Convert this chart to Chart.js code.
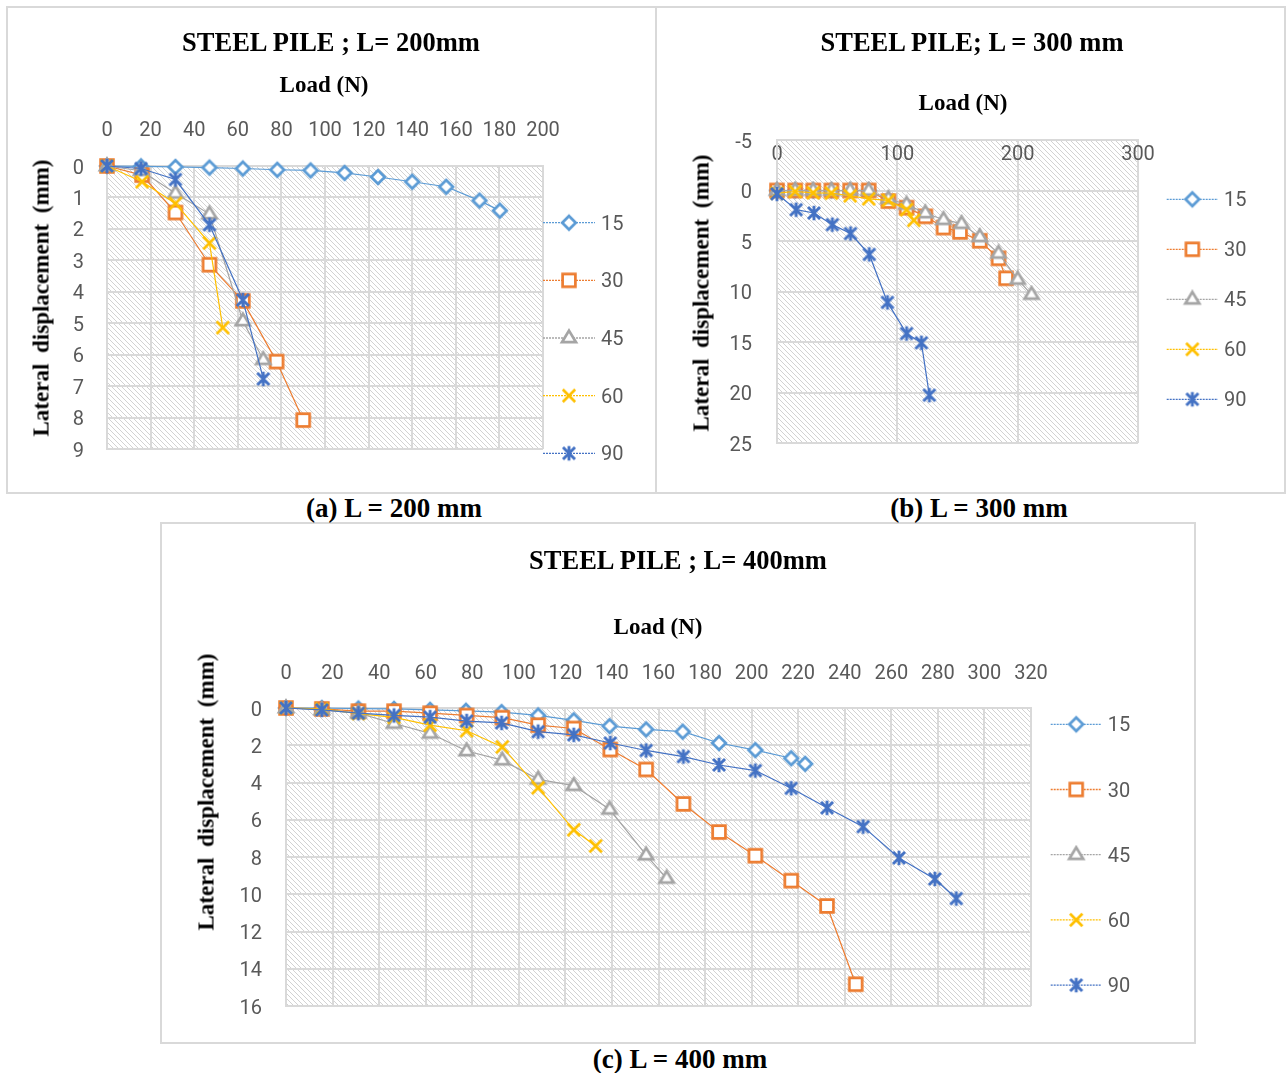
<!DOCTYPE html>
<html>
<head>
<meta charset="utf-8">
<script src="https://cdn.jsdelivr.net/npm/chart.js@4.4.1/dist/chart.umd.min.js"></script>
<style>
html,body{margin:0;padding:0;background:#fff;}
body{width:1286px;height:1073px;position:relative;overflow:hidden;font-family:'Liberation Serif','Times New Roman',serif;}
.panel{position:absolute;border:2px solid #D9D9D9;box-sizing:border-box;}
.txt{position:absolute;font-weight:bold;color:#000;white-space:nowrap;transform:translate(-50%,-50%);line-height:1;}
.title{font-size:26.5px;}
.xt{font-size:23px;}
.cap{font-size:27px;}
.yt{font-size:23px;word-spacing:5px;transform:translate(-50%,-50%) rotate(-90deg);}
canvas{position:absolute;}
</style>
</head>
<body>
<div class="panel" style="left:6px;top:6px;width:651px;height:488px"></div>
<div class="panel" style="left:655px;top:6px;width:631px;height:488px"></div>
<div class="panel" style="left:160px;top:522px;width:1036px;height:522px"></div>

<canvas id="chartA" width="648" height="485" style="left:7px;top:7px;width:648px;height:485px"></canvas>
<canvas id="chartB" width="627" height="485" style="left:657px;top:7px;width:627px;height:485px"></canvas>
<canvas id="chartC" width="1032" height="518" style="left:162px;top:524px;width:1032px;height:518px"></canvas>

<div class="txt title" style="left:331px;top:42px">STEEL PILE ; L= 200mm</div>
<div class="txt xt" style="left:324px;top:84px">Load (N)</div>
<div class="txt yt" style="left:41px;top:298px">Lateral displacement (mm)</div>

<div class="txt title" style="left:972px;top:42px">STEEL PILE; L = 300 mm</div>
<div class="txt xt" style="left:963px;top:102px">Load (N)</div>
<div class="txt yt" style="left:701px;top:293px">Lateral displacement (mm)</div>

<div class="txt title" style="left:678px;top:560px">STEEL PILE ; L= 400mm</div>
<div class="txt xt" style="left:658px;top:626px">Load (N)</div>
<div class="txt yt" style="left:206px;top:792px">Lateral displacement (mm)</div>

<div class="txt cap" style="left:394px;top:508px">(a) L = 200 mm</div>
<div class="txt cap" style="left:979px;top:508px">(b) L = 300 mm</div>
<div class="txt cap" style="left:680px;top:1059px">(c) L = 400 mm</div>

<script>
// ---------------- DATA ----------------
const seriesNames = ['15', '30', '45', '60', '90'];

// (a) L = 200 mm
const xTicksA = [0, 20, 40, 60, 80, 100, 120, 140, 160, 180, 200];
const yTicksA = [0, 1, 2, 3, 4, 5, 6, 7, 8, 9];
const loadA15 = [0, 15.6, 31.4, 47.0, 62.3, 78.1, 93.4, 109.0, 124.3, 140.0, 155.6, 170.9, 180.2];
const dispA15 = [0, 0.01, 0.03, 0.05, 0.08, 0.12, 0.14, 0.22, 0.35, 0.50, 0.66, 1.10, 1.42];
const loadA30 = [0, 16.1, 31.4, 47.0, 62.3, 77.8, 90.0];
const dispA30 = [0, 0.29, 1.48, 3.14, 4.29, 6.22, 8.08];
const loadA45 = [0, 15.6, 31.4, 47.0, 62.3, 71.7];
const dispA45 = [0, 0.15, 0.87, 1.53, 4.93, 6.16];
const loadA60 = [0, 16.1, 31.4, 47.0, 53.1];
const dispA60 = [0, 0.50, 1.19, 2.45, 5.14];
const loadA90 = [0, 15.6, 31.4, 47.0, 62.3, 71.7];
const dispA90 = [0, 0.08, 0.43, 1.87, 4.26, 6.77];

// (b) L = 300 mm
const xTicksB = [0, 100, 200, 300];
const yTicksB = [-5, 0, 5, 10, 15, 20, 25];
const loadB15 = [0, 15.1, 30.1, 45.2, 60.8, 76.2];
const dispB15 = [0, 0, 0, 0, 0, 0];
const loadB30 = [0, 15.1, 30.1, 45.2, 60.8, 76.2, 92.6, 107.7, 123.3, 138.4, 152.1, 168.5, 184.1, 190.4];
const dispB30 = [0, 0, 0, 0, 0, 0, 1.05, 1.70, 2.56, 3.67, 4.10, 4.98, 6.72, 8.69];
const loadB45 = [0, 15.1, 30.1, 45.2, 60.8, 76.2, 92.6, 107.7, 123.3, 138.4, 153.4, 168.5, 184.1, 200.0, 211.5];
const dispB45 = [0, 0, 0, 0, 0, 0, 0.82, 1.38, 2.23, 2.89, 3.28, 4.59, 6.23, 8.80, 10.30];
const loadB60 = [0, 15.1, 30.1, 45.2, 60.8, 76.2, 92.6, 107.7, 113.7];
const dispB60 = [0.26, 0.10, 0.23, 0.26, 0.52, 0.82, 0.98, 1.90, 2.95];
const loadB90 = [0, 15.9, 30.7, 46.0, 61.1, 76.7, 91.8, 107.7, 120.0, 126.6];
const dispB90 = [0.33, 1.90, 2.23, 3.38, 4.26, 6.33, 11.08, 14.16, 15.08, 20.26];

// (c) L = 400 mm
const xTicksC = [0, 20, 40, 60, 80, 100, 120, 140, 160, 180, 200, 220, 240, 260, 280, 300, 320];
const yTicksC = [0, 2, 4, 6, 8, 10, 12, 14, 16];
const loadC15 = [0, 15.4, 31.1, 46.4, 61.9, 77.3, 92.6, 108.3, 123.6, 139.0, 154.7, 170.4, 186.0, 201.6, 217.0, 223.0];
const dispC15 = [0, 0, 0.03, 0.05, 0.10, 0.15, 0.22, 0.40, 0.66, 0.97, 1.15, 1.27, 1.88, 2.26, 2.70, 3.00];
const loadC30 = [0, 15.4, 31.1, 46.4, 61.9, 77.6, 92.9, 108.3, 123.6, 139.3, 154.7, 170.7, 186.0, 201.6, 217.0, 232.4, 244.7];
const dispC30 = [0, 0.05, 0.17, 0.17, 0.28, 0.40, 0.52, 0.92, 1.10, 2.23, 3.30, 5.15, 6.66, 7.93, 9.27, 10.63, 14.83];
const loadC45 = [0, 15.4, 31.1, 46.4, 61.9, 77.6, 92.9, 108.3, 123.6, 139.0, 154.7, 163.5];
const dispC45 = [0, 0.10, 0.28, 0.83, 1.36, 2.31, 2.80, 3.83, 4.17, 5.44, 7.90, 9.15];
const loadC60 = [0, 15.4, 31.1, 46.4, 61.9, 77.6, 92.9, 108.3, 123.6, 133.0];
const dispC60 = [0, 0.05, 0.30, 0.50, 0.92, 1.22, 2.09, 4.28, 6.54, 7.41];
const loadC90 = [0, 15.4, 31.1, 46.4, 61.9, 77.6, 92.6, 108.3, 123.6, 139.3, 154.7, 170.7, 186.0, 201.6, 217.0, 232.4, 247.9, 263.3, 278.7, 287.9];
const dispC90 = [0, 0.10, 0.28, 0.40, 0.49, 0.70, 0.80, 1.27, 1.44, 1.88, 2.28, 2.61, 3.06, 3.36, 4.31, 5.36, 6.37, 8.05, 9.18, 10.23];

// ---------------- STYLE ----------------
const COLORS = ['#5B9BD5', '#ED7D31', '#A5A5A5', '#FFC000', '#4472C4'];
const KINDS = ['diamond', 'square', 'triangle', 'x', 'star'];
const TICK_FONT = "Roboto, 'Liberation Sans', sans-serif";
const TICK_SIZE = 20;
const TICK_COLOR = '#595959';
const GRID_COLOR = '#D9D9D9';

function makeMarker(kind, color) {
  const c = document.createElement('canvas');
  c.width = 20; c.height = 20;
  const g = c.getContext('2d');
  g.strokeStyle = color; g.fillStyle = '#ffffff'; g.lineWidth = 2.7;
  g.lineJoin = 'miter'; g.lineCap = 'butt';
  g.beginPath();
  if (kind === 'diamond') {
    g.moveTo(10, 3.2); g.lineTo(16.8, 10); g.lineTo(10, 16.8); g.lineTo(3.2, 10); g.closePath();
    g.fill(); g.stroke();
  } else if (kind === 'square') {
    g.rect(3.6, 3.6, 12.8, 12.8); g.fill(); g.stroke();
  } else if (kind === 'triangle') {
    g.moveTo(10, 2.6); g.lineTo(17, 14.2); g.lineTo(3, 14.2); g.closePath();
    g.fill(); g.stroke();
  } else if (kind === 'x') {
    g.moveTo(3.8, 3.8); g.lineTo(16.2, 16.2); g.moveTo(3.8, 16.2); g.lineTo(16.2, 3.8);
    g.stroke();
  } else {
    g.lineWidth = 2.9;
    g.moveTo(4, 4); g.lineTo(16, 16); g.moveTo(4, 16); g.lineTo(16, 4);
    g.moveTo(10, 2.8); g.lineTo(10, 17.2);
    g.stroke();
  }
  return c;
}
const MARKERS = KINDS.map((k, i) => makeMarker(k, COLORS[i]));

function pts(xs, ys) { return xs.map((x, i) => ({ x: x, y: ys[i] })); }

function buildDatasets(loads, disps) {
  return seriesNames.map((name, i) => ({
    label: name,
    data: pts(loads[i], disps[i]),
    borderColor: COLORS[i],
    backgroundColor: '#ffffff',
    borderWidth: 1.2,
    pointStyle: MARKERS[i],
    pointRadius: 7,
    pointHoverRadius: 7,
    tension: 0,
    fill: false,
    clip: false,
    order: seriesNames.length - 1 - i
  }));
}

let hatchPat = null;
function getHatch(ctx) {
  if (hatchPat) return hatchPat;
  const n = 5;
  const t = document.createElement('canvas'); t.width = n; t.height = n;
  const g = t.getContext('2d');
  g.fillStyle = '#ffffff'; g.fillRect(0, 0, n, n);
  g.strokeStyle = '#D2D2D2'; g.lineWidth = 1;
  g.beginPath();
  g.moveTo(0, 0); g.lineTo(n, n);
  g.moveTo(-1, n - 1); g.lineTo(1, n + 1);
  g.moveTo(n - 1, -1); g.lineTo(n + 1, 1);
  g.stroke();
  hatchPat = ctx.createPattern(t, 'repeat');
  return hatchPat;
}

const hatchPlugin = {
  id: 'hatch',
  beforeDraw(chart) {
    const { ctx, chartArea: a } = chart;
    ctx.save();
    ctx.fillStyle = getHatch(ctx);
    ctx.fillRect(a.left, a.top, a.right - a.left, a.bottom - a.top);
    ctx.restore();
  }
};

const excelLegend = {
  id: 'excelLegend',
  afterDraw(chart, args, opts) {
    const ctx = chart.ctx;
    ctx.save();
    chart.data.datasets.forEach((ds, i) => {
      const y = opts.top + i * opts.step;
      ctx.strokeStyle = ds.borderColor;
      ctx.lineWidth = 1.3;
      ctx.setLineDash([2, 1]);
      ctx.beginPath(); ctx.moveTo(opts.x, y); ctx.lineTo(opts.x + opts.len, y); ctx.stroke();
      ctx.setLineDash([]);
      const img = ds.pointStyle;
      ctx.drawImage(img, opts.x + opts.len / 2 - img.width / 2, y - img.height / 2);
      ctx.fillStyle = TICK_COLOR;
      ctx.font = TICK_SIZE + 'px ' + TICK_FONT;
      ctx.textAlign = 'left'; ctx.textBaseline = 'middle';
      ctx.fillText(ds.label, opts.x + opts.len + opts.gap, y + 2);
    });
    ctx.restore();
  }
};

function makeChart(id, cfg) {
  const xt = cfg.xTicks, yt = cfg.yTicks;
  return new Chart(document.getElementById(id), {
    type: 'line',
    data: { datasets: buildDatasets(cfg.loads, cfg.disps) },
    options: {
      responsive: false,
      animation: false,
      devicePixelRatio: 1,
      layout: { padding: { left: 0, top: 0, right: cfg.padRight, bottom: cfg.padBottom } },
      plugins: {
        legend: { display: false },
        tooltip: { enabled: false },
        excelLegend: cfg.legend
      },
      scales: {
        x: {
          type: 'linear', position: 'top',
          min: xt[0], max: xt[xt.length - 1],
          ticks: { stepSize: xt[1] - xt[0], autoSkip: false, maxRotation: 0, padding: cfg.xPad,
                   mirror: !!cfg.xMirror,
                   color: TICK_COLOR, font: { family: TICK_FONT, size: TICK_SIZE } },
          grid: { color: GRID_COLOR, lineWidth: 2, drawTicks: false },
          border: { display: true, color: GRID_COLOR, width: 2 },
          afterFit: s => { s.height = cfg.xHeight; }
        },
        y: {
          type: 'linear', position: 'left', reverse: true,
          min: yt[0], max: yt[yt.length - 1],
          ticks: { stepSize: yt[1] - yt[0], autoSkip: false, padding: cfg.yPad, labelOffset: 2.5,
                   color: TICK_COLOR, font: { family: TICK_FONT, size: TICK_SIZE } },
          grid: { color: GRID_COLOR, lineWidth: 2, drawTicks: false },
          border: { display: true, color: GRID_COLOR, width: 2 },
          afterFit: s => { s.width = cfg.yWidth; }
        }
      }
    },
    plugins: [hatchPlugin, excelLegend]
  });
}

makeChart('chartA', {
  xTicks: xTicksA, yTicks: yTicksA,
  loads: [loadA15, loadA30, loadA45, loadA60, loadA90],
  disps: [dispA15, dispA30, dispA45, dispA60, dispA90],
  yWidth: 100, xHeight: 159, padRight: 112, padBottom: 43,
  xPad: 23, yPad: 23,
  legend: { x: 536, len: 52, gap: 6, top: 215.7, step: 57.65 }
});

makeChart('chartB', {
  xTicks: xTicksB, yTicks: yTicksB,
  loads: [loadB15, loadB30, loadB45, loadB60, loadB90],
  disps: [dispB15, dispB30, dispB45, dispB60, dispB90],
  yWidth: 120, xHeight: 133, padRight: 146, padBottom: 49,
  xPad: 3, xMirror: true, yPad: 25,
  legend: { x: 509.7, len: 51.3, gap: 6, top: 192.3, step: 50 }
});

makeChart('chartC', {
  xTicks: xTicksC, yTicks: yTicksC,
  loads: [loadC15, loadC30, loadC45, loadC60, loadC90],
  disps: [dispC15, dispC30, dispC45, dispC60, dispC90],
  yWidth: 124, xHeight: 184, padRight: 163, padBottom: 28,
  xPad: 22, yPad: 24,
  legend: { x: 888.7, len: 51, gap: 6, top: 200.3, step: 65.2 }
});
</script>
</body>
</html>
